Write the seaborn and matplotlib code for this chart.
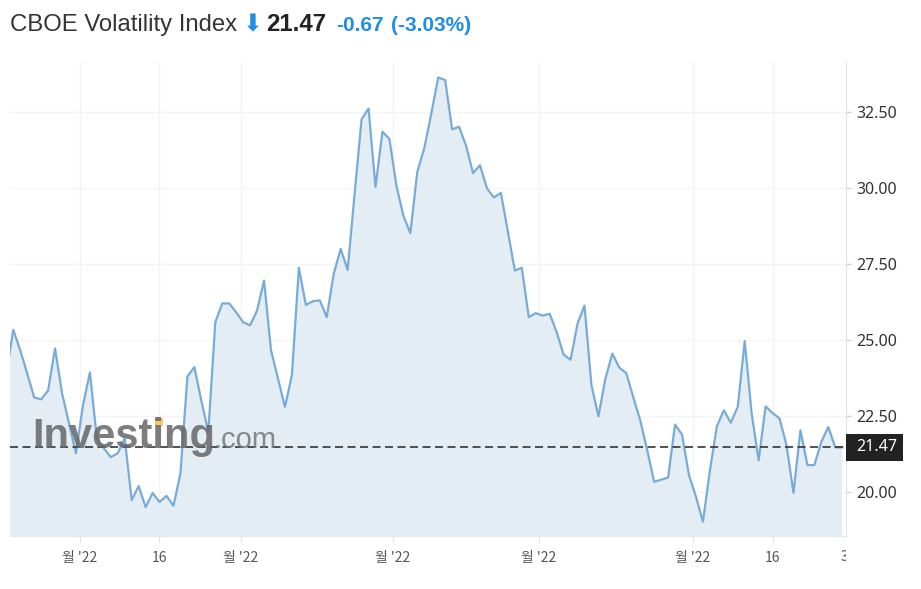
#!/usr/bin/env python3

import numpy as np
import pandas as pd
import matplotlib
matplotlib.use("Agg")
import matplotlib.pyplot as plt
from matplotlib.patches import Rectangle
from matplotlib.transforms import Bbox, TransformedBbox, blended_transform_factory
import seaborn as sns

# ======================================================
# DATA (one value per session)
# ======================================================
VIX_CLOSE = [
    23.90, 25.33, 24.66, 23.90, 23.11, 23.05, 23.34, 24.72, 23.25, 22.26,
    21.28, 22.85, 23.93, 21.77, 21.44, 21.15, 21.28, 21.77, 19.74, 20.20,
    19.51, 19.97, 19.68, 19.88, 19.55, 20.62, 23.80, 24.11, 23.00, 21.98,
    25.58, 26.20, 26.20, 25.91, 25.58, 25.48, 25.97, 26.95, 24.66, 23.73,
    22.80, 23.85, 27.37, 26.15, 26.27, 26.30, 25.75, 27.17, 27.99, 27.30,
    29.80, 32.25, 32.60, 30.03, 31.84, 31.60, 30.07, 29.08, 28.51, 30.52,
    31.30, 32.42, 33.62, 33.54, 31.92, 32.00, 31.38, 30.48, 30.74, 29.98,
    29.68, 29.83, 28.56, 27.28, 27.37, 25.75, 25.88, 25.80, 25.86, 25.26,
    24.52, 24.35, 25.53, 26.13, 23.51, 22.49, 23.73, 24.55, 24.09, 23.91,
    23.12, 22.36, 21.38, 20.34, 20.41, 20.48, 22.22, 21.89, 20.56, 19.85,
    19.03, 20.70, 22.16, 22.69, 22.28, 22.80, 24.96, 22.58, 21.05, 22.82,
    22.60, 22.42, 21.54, 19.98, 22.03, 20.89, 20.89, 21.65, 22.14, 21.47,
    21.47,
]

LAST_PRICE = 21.47
CHANGE = "-0.67"
CHANGE_PCT = "(-3.03%)"

XTICK_POS = [10.58, 21.92, 33.69, 55.51, 76.47, 98.58, 110.06]
XTICK_LABELS = ["월 '22", "16", "월 '22", "월 '22", "월 '22", "월 '22", "16"]
YTICKS = [20.0, 22.5, 25.0, 27.5, 30.0, 32.5]

LINE_COLOR = "#78acd8"
FILL_COLOR = "#e4edf4"
BLUE = "#1f8ee6"
GRID = "#f3f4f6"
W, H = 921, 589


def fx(px):
    return px / W


def fy(py):
    return 1 - py / H


# ======================================================
# PLOTTING
# ======================================================
sns.set_style("white")
plt.rcParams["font.family"] = ["Noto Sans", "DejaVu Sans"]
plt.rcParams["lines.scale_dashes"] = False

df = pd.DataFrame({"idx": np.arange(len(VIX_CLOSE)), "close": VIX_CLOSE})

fig = plt.figure(figsize=(W / 100, H / 100), dpi=100)
ax = fig.add_axes([fx(10), fy(536), fx(836), (536 - 62) / H])

ax.fill_between(df["idx"], df["close"], 0, color=FILL_COLOR, lw=0, zorder=1)
sns.lineplot(data=df, x="idx", y="close", ax=ax, color=LINE_COLOR, lw=1.6, zorder=3)
ax.axhline(LAST_PRICE, color="#333333", lw=1.2, dashes=(5.8, 3.2), zorder=4)

ax.set_xlim(0.53, 120.54)
ax.set_ylim(18.56, 34.13)

# ---- axes styling ----
ax.yaxis.tick_right()
ax.set_yticks(YTICKS)
ax.set_yticklabels([f"{v:.2f}" for v in YTICKS])
ax.set_xticks(XTICK_POS)
ax.set_xticklabels(XTICK_LABELS, family=["Noto Sans CJK KR", "DejaVu Sans"])
ax.tick_params(axis="y", right=True, left=False, length=3.5, width=1, color="#cfd3da",
               pad=4, labelsize=11.5, labelcolor="#333333")
ax.tick_params(axis="x", bottom=True, length=5, width=1, color="#e3e6eb",
               pad=6, labelsize=10, labelcolor="#555555")
ax.grid(True, color=GRID, lw=1)
ax.set_axisbelow(True)
for s in ["left", "top"]:
    ax.spines[s].set_visible(False)
ax.spines["right"].set_color("#e0e3ea")
ax.spines["bottom"].set_color("#e6e8ec")
ax.set_xlabel("")
ax.set_ylabel("")

# ---- clipped last x label ----
t3 = fig.text(fx(841), fy(557), "3", fontsize=10, color="#555555", va="center",
              family=["Noto Sans CJK KR", "DejaVu Sans"])
t3.set_clip_box(TransformedBbox(Bbox([[0, 0], [fx(846), 1]]), fig.transFigure))
t3.set_clip_on(True)

# ---- price tag ----
tr = blended_transform_factory(ax.transAxes, ax.transData)
ax.add_patch(Rectangle((1.0, LAST_PRICE - 0.43), 57 / 836, 0.86, transform=tr,
                       facecolor="#222222", edgecolor="none", clip_on=False, zorder=6))
ax.text(1.0 + 10 / 836, LAST_PRICE, f"{LAST_PRICE:.2f}", transform=tr, color="white",
        fontsize=11.5, va="center", ha="left", zorder=7, clip_on=False)

# ---- watermark ----
fig.text(fx(32), fy(448), "Investing", family="Liberation Sans", weight="bold",
         fontsize=30, color="#666666", alpha=0.85, va="baseline", zorder=2)
fig.text(fx(213), fy(448), ".com", family="Liberation Sans",
         fontsize=21, color="#777777", alpha=0.85, va="baseline", zorder=2)
fig.patches.append(Rectangle((fx(155), fy(426)), 8 / W, 8 / H, transform=fig.transFigure,
                             facecolor="#f7c15e", edgecolor="none", alpha=0.9))

# ---- header ----
fig.text(fx(10), fy(31), "CBOE Volatility Index", family="Liberation Sans",
         fontsize=17.2, color="#333333", va="baseline")
fig.text(fx(243), fy(31), "\u2b07", family="DejaVu Sans", fontsize=17,
         color=BLUE, va="baseline")
fig.text(fx(266), fy(31), f"{LAST_PRICE:.2f}", family="Liberation Sans",
         weight="bold", fontsize=17.3, color="#222222", va="baseline")
fig.text(fx(336), fy(31), CHANGE, family="Liberation Sans", weight="bold",
         fontsize=15, color=BLUE, va="baseline")
fig.text(fx(391), fy(31), CHANGE_PCT, family="Liberation Sans", weight="bold",
         fontsize=15, color=BLUE, va="baseline")

fig.savefig("out.png", dpi=100)
plt.close(fig)
